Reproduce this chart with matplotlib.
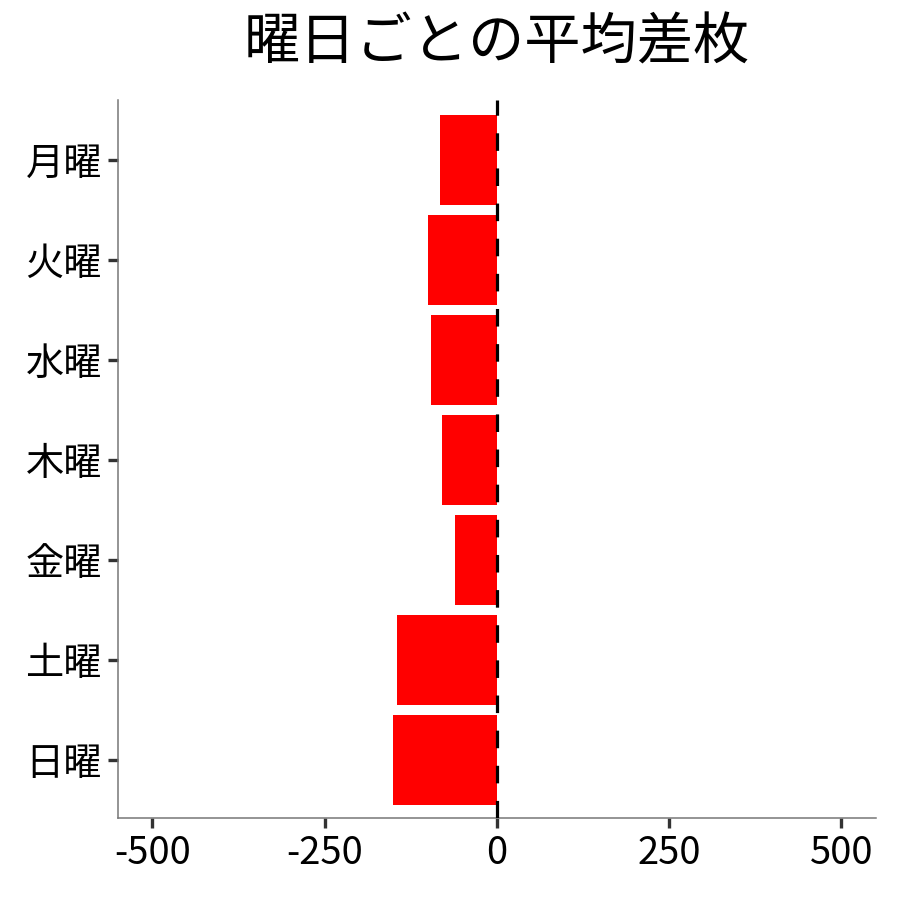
import matplotlib
matplotlib.use("Agg")
from matplotlib import pyplot as plt

plt.rcParams['font.family'] = ['Noto Sans CJK JP', 'DejaVu Sans']

曜日 = ['月曜', '火曜', '水曜', '木曜', '金曜', '土曜', '日曜']
平均差枚 = [-83, -100, -96, -80, -61, -145, -150]
xticks = [-500, -250, 0, 250, 500]

fig = plt.figure(figsize=(9, 9), dpi=100)
ax = fig.add_axes([0.131, 0.091, 0.842, 0.798])

pos = list(range(len(曜日)))
ax.barh(pos, 平均差枚, height=0.9, color='#ff0000', zorder=2)
ax.axvline(0, color='black', lw=2.3, linestyle=(0, (5.5, 5.5)), zorder=3)

ax.set_xlim(-550, 550)
ax.set_ylim(len(曜日) - 0.42, -0.6)
ax.set_yticks(pos)
ax.set_yticklabels(曜日)
ax.set_xticks(xticks)
ax.set_xticklabels([str(v) for v in xticks])

for s in ['top', 'right']:
    ax.spines[s].set_visible(False)
for s in ['left', 'bottom']:
    ax.spines[s].set_color('#777777')
    ax.spines[s].set_linewidth(1.1)

ax.tick_params(axis='both', length=7.5, width=2.4, color='#333333',
               labelsize=27.5, labelcolor='black', pad=4)

fig.text(0.552, 0.951, '曜日ごとの平均差枚', fontsize=40.5,
         ha='center', va='center')

fig.savefig('out.png')
